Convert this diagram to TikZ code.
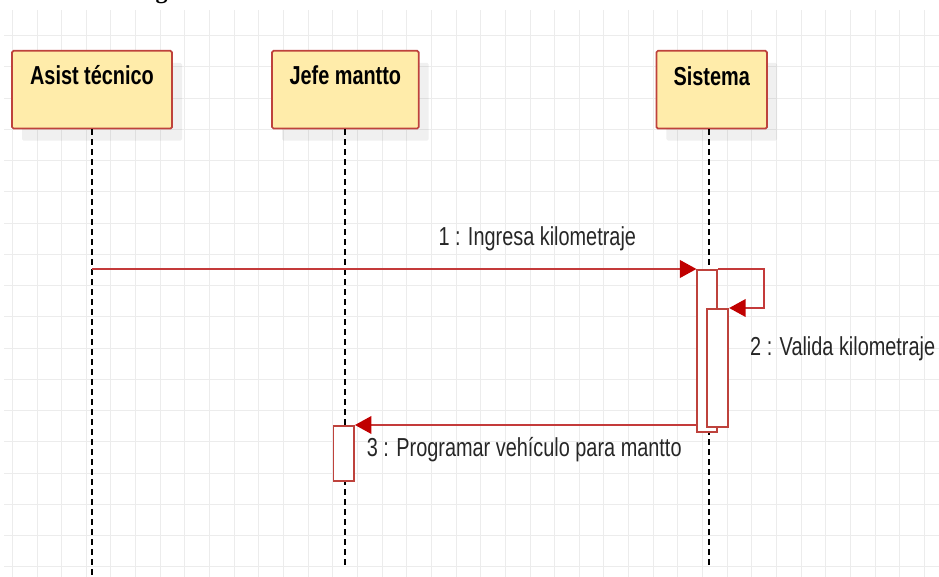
\documentclass[tikz,border=0pt]{standalone}
\usepackage{fontspec}
\setmainfont{Liberation Sans}[FakeStretch=0.765]
\newfontfamily\headfont{Liberation Serif}
\usepackage{xcolor}
\usepackage{tikz}
\usetikzlibrary{arrows.meta,positioning,shadows}

\definecolor{actorfill}{RGB}{255,236,170}
\definecolor{actorline}{RGB}{190,66,60}
\definecolor{msgline}{RGB}{196,58,58}
\definecolor{msghead}{RGB}{192,0,0}
\definecolor{gridgray}{RGB}{236,236,236}

\begin{document}
\begin{tikzpicture}[
    x=1pt, y=-1pt,
    node distance=98pt,
    gridline/.style={draw=gridgray, line width=0.9pt},
    actor/.style={rectangle, draw=actorline, fill=actorfill, line width=1.7pt, rounded corners=1.5pt, inner sep=0pt, minimum height=77.7pt, text height=33.3pt, text depth=44.4pt, font=\fontsize{26}{30}\selectfont\bfseries, drop shadow={shadow xshift=10pt, shadow yshift=-12pt, fill=black, opacity=0.06}},
    lifeline/.style={draw=black, line width=1.2pt, dash pattern=on 6pt off 4pt},
    activation/.style={rectangle, draw=actorline, fill=white, line width=1.7pt, inner sep=0pt, minimum width=20.5pt},
    msg/.style={draw=msgline, line width=2.2pt, -{Triangle[length=16.5pt, width=17.5pt, color=msghead]}},
    msglabel/.style={anchor=base west, inner sep=0pt, text=black!85, font=\fontsize{26}{30}\selectfont}
]
    \useasboundingbox (0,0) rectangle (939,577);

    % Grid
    \foreach \gx in {0,...,37}
        \draw[gridline] ({12.3+24.65*\gx},10) -- ({12.3+24.65*\gx},577);
    \foreach \gy in {0,...,17}
        \draw[gridline] (4,{35.6+31.25*\gy}) -- (939,{35.6+31.25*\gy});

    % Heading (cut off)
    \node[anchor=base, inner sep=0pt, font=\fontsize{24}{24}\selectfont\headfont\bfseries] (title) at (161.5,-1) {g};

    % Actors
    \node[actor, minimum width=160pt, anchor=north] (asist) at (92,50) {Asist técnico};
    \node[actor, minimum width=146.7pt, right=98.3pt of asist] (jefe) {Jefe mantto};
    \node[actor, minimum width=110.6pt, right=236pt of jefe, text height=34.3pt, text depth=43.4pt] (sistema) {Sistema};

    % Lifelines
    \coordinate (asistend) at (asist.south |- 0,577);
    \coordinate (jefeend) at (345,565);
    \coordinate (sistemaend) at (709,565);
    \draw[lifeline] (jefe.south -| jefeend) -- (jefeend);
    \draw[lifeline] (asist) -- (asistend);
    \draw[lifeline] (sistema.south -| sistemaend) -- (sistemaend);

    % Activations
    \node[activation, minimum width=20pt, minimum height=162pt, anchor=north] (sisact) at (707.3,269) {};
    \node[activation, minimum width=21pt, minimum height=118pt, anchor=north] (valact) at (717.8,308) {};
    \node[activation, minimum width=20.7pt, minimum height=55pt, anchor=north] (jefeact) at (343.7,425) {};

    % Messages
    \draw[msg] (asist.south |- sisact.north) -- (sisact.north west);
    \draw[msg] (sisact.north east) -- ++(46,0) |- (valact.north east);
    \draw[msg] (sisact.west |- jefeact.north) -- (jefeact.north east);

    % Labels
    \node[msglabel] (ingresa) at (438.3,246) {1 : Ingresa kilometraje};
    \node[msglabel] (valida) at (750,355) {2 : Valida kilometraje};
    \node[msglabel] (programa) at (366.7,456.7) {3 : Programar vehículo para mantto};
\end{tikzpicture}
\end{document}
